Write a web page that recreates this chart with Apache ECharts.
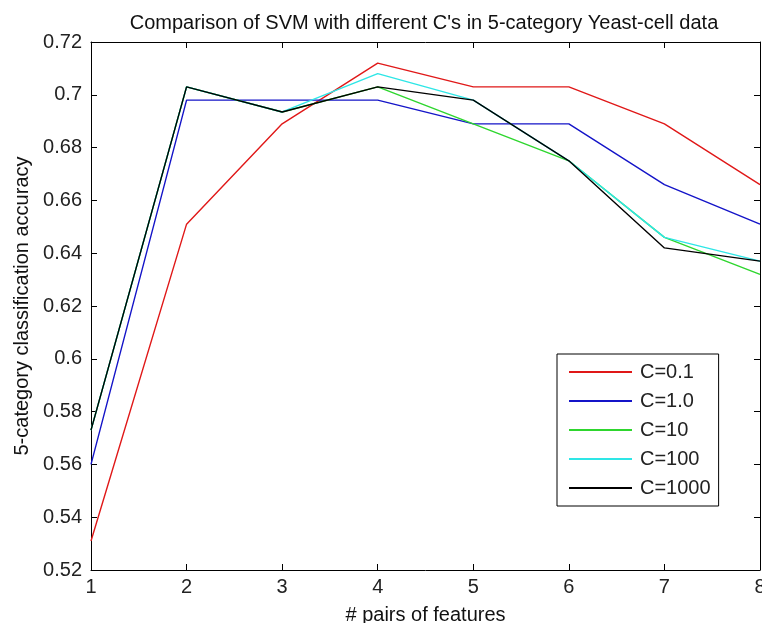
<!DOCTYPE html>
<html>
<head>
<meta charset="utf-8">
<script src="https://cdn.jsdelivr.net/npm/echarts@6/dist/echarts.min.js"></script>
<style>
  html, body { margin: 0; padding: 0; background: #fff; }
  #chart { width: 762px; height: 623px; }
</style>
</head>
<body>
<div id="chart"></div>
<script>
// number of feature pairs
const pairs = [1, 2, 3, 4, 5, 6, 7, 8];
// accuracy per C value
const accC01 = [0.531, 0.651, 0.689, 0.712, 0.703, 0.703, 0.689, 0.666];
const accC1 = [0.560, 0.698, 0.698, 0.698, 0.689, 0.689, 0.666, 0.651];
const accC10 = [0.573, 0.703, 0.6935, 0.703, 0.689, 0.675, 0.646, 0.632];
const accC100 = [0.573, 0.703, 0.6935, 0.708, 0.698, 0.675, 0.646, 0.637];
const accC1000 = [0.573, 0.703, 0.6935, 0.703, 0.698, 0.675, 0.642, 0.637];
const seriesNames = ['C=0.1', 'C=1.0', 'C=10', 'C=100', 'C=1000'];
const seriesColors = ['#e01818', '#1414c8', '#2ed62e', '#2ee6e6', '#000000'];

const font = 'Liberation Sans';

const toPoints = (arr) => pairs.map((x, i) => [x, arr[i]]);

const chart = echarts.init(document.getElementById('chart'));

const axisLine = { show: true, lineStyle: { color: '#000', width: 1 } };
const tickIn = { show: true, inside: true, length: 6, lineStyle: { color: '#000' } };

const option = {
  backgroundColor: '#fff',
  animation: false,
  title: {
    text: "Comparison of SVM with different C's in 5-category Yeast-cell data",
    left: 419, top: 8, textAlign: 'center',
    textStyle: { fontFamily: font, fontSize: 20, fontWeight: 'normal', color: '#111' }
  },
  grid: { left: 91, right: 2, top: 42, bottom: 53, outerBoundsMode: 'none', containLabel: false },
  legend: {
    orient: 'vertical',
    left: 557, top: 354,
    data: seriesNames.map(n => ({ name: n, icon: 'rect' })),
    itemWidth: 63, itemHeight: 2, itemGap: 9,
    padding: [8, 8, 8, 12],
    borderColor: '#000', borderWidth: 1, backgroundColor: '#fff',
    textStyle: { fontFamily: font, fontSize: 20, color: '#222', padding: [0, 0, 0, 3] }
  },
  xAxis: [{
    type: 'value', min: 1, max: 8, interval: 1,
    name: '# pairs of features', nameLocation: 'middle', nameGap: 35,
    nameTextStyle: { fontFamily: font, fontSize: 20, color: '#111' },
    axisLine: axisLine, axisTick: tickIn, splitLine: { show: false },
    axisLabel: { fontFamily: font, fontSize: 20, color: '#222', margin: 7 }
  }, {
    type: 'value', min: 1, max: 8, interval: 1, position: 'top',
    axisLine: axisLine, axisTick: tickIn, splitLine: { show: false },
    axisLabel: { show: false }
  }],
  yAxis: [{
    type: 'value', min: 0.52, max: 0.72, interval: 0.02,
    name: '5-category classification accuracy', nameLocation: 'middle', nameGap: 58,
    nameTextStyle: { fontFamily: font, fontSize: 20, color: '#111' },
    axisLine: axisLine, axisTick: tickIn, splitLine: { show: false },
    axisLabel: { fontFamily: font, fontSize: 20, color: '#222', margin: 9 }
  }, {
    type: 'value', min: 0.52, max: 0.72, interval: 0.02, position: 'right',
    axisLine: axisLine, axisTick: tickIn, splitLine: { show: false },
    axisLabel: { show: false }
  }],
  series: [accC01, accC1, accC10, accC100, accC1000].map((arr, i) => ({
    name: seriesNames[i],
    type: 'line',
    data: toPoints(arr),
    showSymbol: false,
    symbol: 'none',
    color: seriesColors[i],
    lineStyle: { width: 1.4, color: seriesColors[i] }
  }))
};

chart.setOption(option);
</script>
</body>
</html>
